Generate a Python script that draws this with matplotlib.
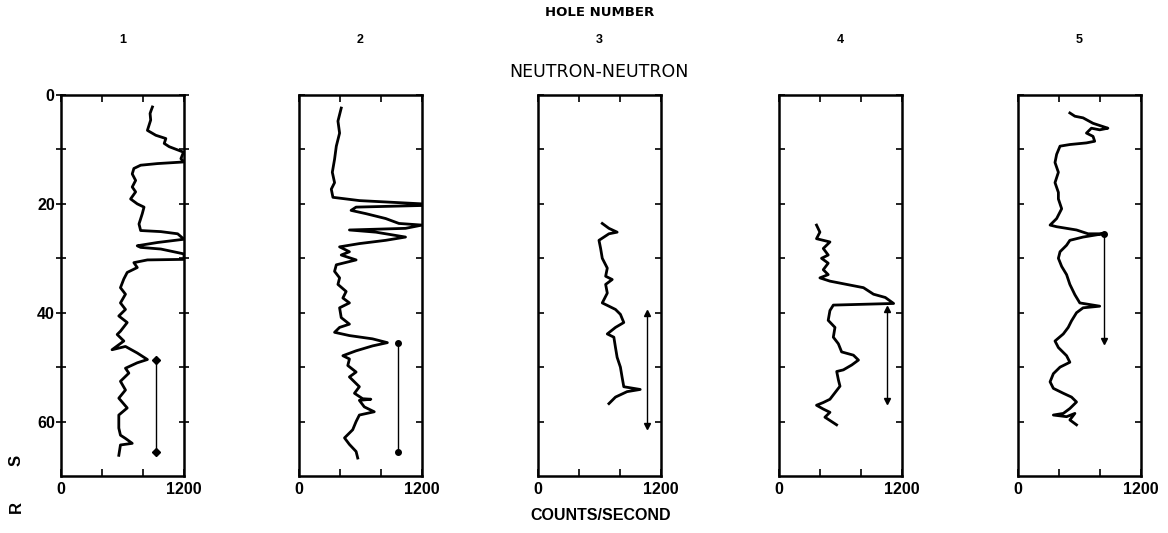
import numpy as np
import matplotlib.pyplot as plt

# Neutron-neutron logs, counts/second vs depth, holes 1 to 5
hole1_cps = [892, 880, 869, 875, 843, 925, 1023, 1007, 1056, 1195, 1170, 1200, 941, 777, 711, 695,
             728, 695, 728, 679, 744, 810, 793, 761, 777, 974, 1138, 1200, 941, 744, 777, 974,
             1200, 1200, 843, 711, 744, 646, 613, 580, 629, 580, 629, 564, 646, 580, 548, 613,
             498, 629, 744, 843, 744, 629, 662, 580, 629, 564, 646, 564, 564, 580, 629, 695,
             580, 564]
hole1_depth = [2.2, 2.8, 3.4, 4.6, 6.5, 7.4, 8.0, 8.9, 9.5, 10.5, 11.7, 12.3, 12.6, 12.9, 13.5, 14.5,
               15.7, 16.9, 17.8, 19.1, 20.0, 20.6, 21.8, 23.7, 24.9, 25.1, 25.5, 26.5, 27.1, 27.7, 28.0, 28.3,
               29.2, 30.2, 30.3, 30.8, 31.7, 32.6, 33.8, 35.4, 36.6, 38.2, 39.4, 40.6, 41.8, 43.4, 44.0, 45.2,
               46.8, 46.2, 47.4, 48.6, 49.2, 50.2, 51.1, 52.6, 54.2, 55.7, 57.5, 58.8, 61.2, 62.5, 63.1, 64.0,
               64.3, 66.2]

hole2_cps = [412, 380, 396, 364, 347, 325, 347, 315, 331, 589, 1200, 1200, 557, 508, 653, 846,
             975, 1200, 1039, 492, 750, 1039, 846, 589, 396, 492, 412, 557, 364, 347, 396, 380,
             460, 428, 492, 396, 412, 492, 396, 347, 492, 717, 862, 717, 557, 428, 492, 476,
             557, 492, 589, 541, 621, 701, 589, 637, 734, 589, 557, 524, 444, 492, 557, 573]
hole2_depth = [2.4, 4.8, 7.0, 9.4, 11.8, 14.2, 16.1, 17.3, 18.8, 19.4, 20.0, 20.3, 20.6, 21.2, 21.8, 22.7,
               23.6, 23.9, 24.5, 24.8, 25.2, 26.1, 26.7, 27.3, 27.9, 28.8, 29.4, 30.3, 31.2, 32.4, 33.6, 34.8,
               36.1, 37.3, 38.2, 39.1, 40.9, 42.1, 42.7, 43.6, 44.2, 44.8, 45.5, 46.1, 47.0, 47.9, 48.5, 49.7,
               50.9, 51.8, 53.6, 54.8, 55.8, 55.9, 56.1, 57.3, 58.2, 58.8, 60.0, 61.5, 63.0, 64.2, 65.5, 66.7]

hole3_cps = [627, 692, 772, 692, 595, 611, 627, 676, 660, 724, 660, 676, 627, 692, 756, 804,
             837, 756, 676, 740, 756, 772, 804, 820, 837, 997, 869, 756, 692]
hole3_depth = [23.6, 24.5, 25.2, 25.5, 26.7, 28.2, 30.0, 31.8, 33.3, 33.9, 34.8, 36.4, 38.2, 38.8, 39.4, 40.3,
               41.8, 42.7, 43.9, 44.5, 46.4, 48.2, 50.0, 51.8, 53.6, 54.1, 54.5, 55.5, 56.7]

hole4_cps = [366, 399, 366, 497, 432, 480, 415, 480, 432, 480, 399, 497, 660, 824, 922, 1037,
             1118, 530, 497, 480, 546, 530, 579, 611, 726, 775, 710, 628, 563, 579, 595, 546,
             497, 432, 366, 432, 497, 448, 497, 562]
hole4_depth = [23.9, 25.2, 26.4, 27.0, 28.2, 29.4, 30.0, 30.9, 32.1, 33.0, 33.6, 34.2, 34.8, 35.4, 36.6, 37.2,
               38.3, 38.6, 39.6, 41.4, 42.7, 44.5, 45.7, 47.2, 47.8, 48.7, 49.6, 50.5, 50.8, 52.3, 53.5, 54.7,
               55.9, 56.5, 57.0, 57.7, 58.3, 59.2, 59.8, 60.6]

hole5_cps = [506, 555, 635, 732, 829, 877, 797, 716, 668, 732, 748, 668, 506, 410, 377, 361,
             394, 361, 394, 394, 426, 377, 313, 377, 474, 571, 684, 829, 635, 506, 474, 410,
             394, 426, 474, 506, 555, 603, 797, 635, 571, 522, 490, 442, 361, 394, 474, 506,
             410, 345, 313, 345, 442, 522, 571, 506, 442, 345, 474, 555, 506, 571]
hole5_depth = [3.3, 3.9, 4.2, 5.2, 5.8, 6.1, 6.4, 6.1, 7.0, 7.6, 8.5, 8.8, 9.1, 9.4, 10.9, 12.4,
               14.2, 16.1, 17.9, 19.1, 20.9, 22.7, 23.9, 24.2, 24.5, 24.8, 25.5, 25.5, 26.1, 26.7, 27.6, 28.8,
               30.0, 31.5, 33.0, 34.8, 36.7, 38.2, 38.8, 39.1, 40.0, 41.5, 42.7, 43.9, 45.2, 46.4, 47.9, 49.1,
               50.0, 51.2, 52.7, 53.9, 54.8, 55.5, 56.4, 57.6, 58.5, 58.8, 59.1, 58.5, 59.7, 60.6]

hole_labels = ['1', '2', '3', '4', '5']
# vertical interval markers drawn beside each log
arrow_cps = [925, 968, 1062, 1053, 839]
arrow_top = [48.6, 45.6, 40.0, 39.3, 25.5]
arrow_bot = [65.5, 65.6, 60.8, 56.2, 45.2]
top_mark = ['D', 'o', '^', '^', 'o']
bot_mark = ['D', 'o', 'v', 'v', 'v']

logs = [(hole1_cps, hole1_depth), (hole2_cps, hole2_depth), (hole3_cps, hole3_depth),
        (hole4_cps, hole4_depth), (hole5_cps, hole5_depth)]

plt.rcParams['font.family'] = ['Liberation Sans', 'DejaVu Sans']
plt.rcParams['font.weight'] = 'bold'

W, H = 1168, 533
fig = plt.figure(figsize=(W / 100, H / 100), dpi=100)

lefts = [61, 299, 538, 779, 1018]
top_px, bot_px, w_px = 95, 476, 123

for k, (cps, depth) in enumerate(logs):
    ax = fig.add_axes([lefts[k] / W, 1 - bot_px / H, w_px / W, (bot_px - top_px) / H])
    ax.plot(cps, depth, color='black', lw=2.0, solid_joinstyle='round')
    ax.plot([arrow_cps[k], arrow_cps[k]], [arrow_top[k], arrow_bot[k]], color='black', lw=1.0)
    ax.plot(arrow_cps[k], arrow_top[k], marker=top_mark[k], color='black', ms=4)
    ax.plot(arrow_cps[k], arrow_bot[k], marker=bot_mark[k], color='black', ms=4)
    ax.set_xlim(0, 1200)
    ax.set_ylim(70, 0)
    ax.set_xticks([0, 400, 800, 1200])
    ax.set_xticklabels(['0', '', '', '1200'])
    ax.set_yticks(np.arange(0, 70, 10))
    ax.tick_params(axis='x', direction='in', top=True, length=5, width=1.2, labelsize=11.5, pad=4)
    if k == 0:
        ax.set_yticklabels(['0', '', '20', '', '40', '', '60'])
        ax.tick_params(axis='y', direction='inout', right=True, length=7, width=1.2, labelsize=11.5, pad=1)
    else:
        ax.set_yticklabels([])
        ax.tick_params(axis='y', direction='in', right=True, length=4.5, width=1.2)
    for s in ax.spines.values():
        s.set_linewidth(1.8)
    fig.text((lefts[k] + w_px / 2) / W, 1 - 40 / H, hole_labels[k], ha='center', va='center', fontsize=9)

fig.text(600 / W, 1 - 13 / H, 'HOLE NUMBER', ha='center', va='center', fontsize=9.5,
         family='DejaVu Sans')
fig.text(599 / W, 1 - 72 / H, 'NEUTRON-NEUTRON', ha='center', va='center', fontsize=12.5,
         fontweight='normal', family='DejaVu Sans')
fig.text(601 / W, 1 - 515 / H, 'COUNTS/SECOND', ha='center', va='center', fontsize=11.5)
fig.text(16 / W, 1 - 460 / H, 'S', rotation=90, ha='center', va='center', fontsize=12)
fig.text(16 / W, 1 - 507 / H, 'R', rotation=90, ha='center', va='center', fontsize=12)

fig.savefig('out.png', dpi=100)
